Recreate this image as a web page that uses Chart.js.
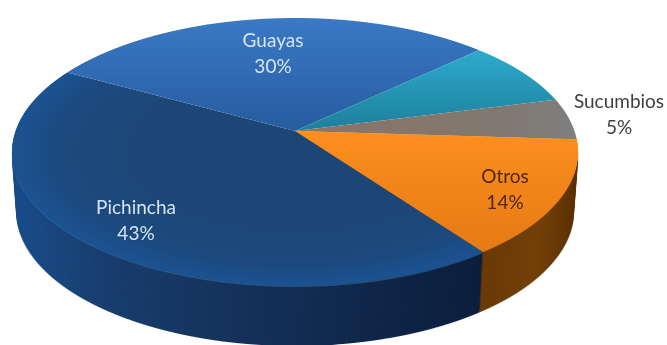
<!DOCTYPE html>
<html>
<head>
<meta charset="utf-8">
<style>
  html, body { margin: 0; padding: 0; background: #fff; }
  canvas { display: block; }
</style>
<script src="https://cdn.jsdelivr.net/npm/chart.js@4"></script>
</head>
<body>
<canvas id="pie-chart" width="667" height="345"></canvas>
<script>
const provincias = ["Pichincha", "Guayas", "", "Sucumbios", "Otros"];
const porcentajes = [43, 30, 8, 5, 14];

// #region Tilted pie layout
// ---------------------------------------
const WIDTH = 667;
const HEIGHT = 345;
const centerX = 295;
const centerY = 131;
const radiusX = 283;
const radiusBack = 113;
const radiusFront = 155;
const depth = 60;

// perspective of the pie's plane, the hub sits above the middle of the ellipse
const persp = (radiusFront - radiusBack) / (radiusFront + radiusBack);
const planeY = radiusFront * (1 - persp);
const planeX = radiusX * Math.sqrt(1 - persp * persp);

const labelStyle = {
  Pichincha: { x: 136, y: 208, color: "#d6e4f4" },
  Guayas: { x: 273, y: 41, color: "#d6e4f4" },
  Sucumbios: { x: 619, y: 102, color: "#404040" },
  Otros: { x: 505, y: 177, color: "#4d2600" },
};

const ramp = (gradient, stops) => {
  stops.forEach(([pos, color]) => gradient.addColorStop(pos, color));
  return gradient;
};

const faceFills = [
  (ctx) => {
    // elliptical glow towards the rim
    ctx.translate(centerX, 152);
    ctx.scale(1, 134 / 283);
    return ramp(ctx.createRadialGradient(0, 0, 150, 0, 0, 283), [
      [0, "#1c4676"],
      [0.7, "#1c4a80"],
      [1, "#1a5392"],
    ]);
  },
  (ctx) => ramp(ctx.createLinearGradient(0, 18, 0, 131), [
    [0, "#3b79c6"],
    [1, "#265c9f"],
  ]),
  (ctx) => ramp(ctx.createLinearGradient(0, 50, 0, 131), [
    [0, "#2eabcd"],
    [1, "#1c7f9b"],
  ]),
  (ctx) => ramp(ctx.createLinearGradient(295, 0, 578, 0), [
    [0, "#8c7466"],
    [0.7, "#80786f"],
    [1, "#7f7f7f"],
  ]),
  (ctx) => ramp(ctx.createLinearGradient(0, 131, 0, 250), [
    [0, "#fd8f1f"],
    [1, "#e67a14"],
  ]),
];

const sideFills = {
  0: (ctx) => ramp(ctx.createLinearGradient(12, 0, 483, 0), [
    [0, "#1b4e8c"],
    [0.2, "#193e6e"],
    [0.6, "#132d53"],
    [1, "#0c1f3d"],
  ]),
  4: (ctx) => ramp(ctx.createLinearGradient(483, 0, 578, 0), [
    [0, "#6a3a08"],
    [0.6, "#74410a"],
    [1, "#5c3205"],
  ]),
};

const newLayer = () => {
  const layer = document.createElement("canvas");
  layer.width = WIDTH;
  layer.height = HEIGHT;
  return layer;
};

// draws one arc row by row, each row with its own scale gives the perspective
const warpArc = (arc) => {
  const layer = newLayer();
  const ctx = layer.getContext("2d");
  const r = arc.outerRadius;
  for (let row = 0; row < HEIGHT; row++) {
    const y = row + 0.5 - centerY;
    const s = y / (planeY + persp * y);
    if (Math.abs(s) > 1.03) continue;
    const w = 1 - persp * s;
    ctx.save();
    ctx.beginPath();
    ctx.rect(0, row, WIDTH, 1);
    ctx.clip();
    ctx.translate(centerX, row + 0.5);
    ctx.scale(planeX / w / r, planeY / (w * w) / r);
    ctx.translate(-arc.x, -(arc.y + r * s));
    arc.draw(ctx);
    ctx.restore();
  }
  return layer;
};

const tint = (mask, fill) => {
  const layer = newLayer();
  const ctx = layer.getContext("2d");
  ctx.drawImage(mask, 0, 0);
  ctx.globalCompositeOperation = "source-in";
  ctx.fillStyle = fill(ctx);
  // big rect, the fill may sit in a scaled space
  ctx.fillRect(-2000, -2000, 4000, 4000);
  return layer;
};

const tiltedPie = {
  id: "tiltedPie",
  beforeDatasetsDraw(chart) {
    const ctx = chart.ctx;
    const masks = chart.getDatasetMeta(0).data.map(warpArc);

    // side wall, stacked copies of the two front slices, narrowing with depth
    [4, 0].forEach((i) => {
      const wall = tint(masks[i], sideFills[i]);
      for (let d = depth; d > 0; d--) {
        const f = 1 - 0.016 * (d / depth);
        ctx.drawImage(wall, centerX - centerX * f, d, WIDTH * f, HEIGHT);
      }
    });
    // faint highlight where the wall meets the face
    ctx.save();
    ctx.globalAlpha = 0.35;
    ctx.drawImage(tint(masks[0], () => "#5f8fc0"), 0, 1);
    ctx.restore();

    // pale edge above the orange slice
    ctx.drawImage(tint(masks[4], () => "#efcf9f"), 0, -1);

    [0, 1, 2, 3, 4].forEach((i) => {
      ctx.drawImage(tint(masks[i], faceFills[i]), 0, 0);
    });
    return false;
  },
  afterDraw(chart) {
    const ctx = chart.ctx;
    ctx.save();
    ctx.font = '19px Lato, "Open Sans", sans-serif';
    ctx.textAlign = "center";
    ctx.textBaseline = "middle";
    provincias.forEach((name, i) => {
      const style = labelStyle[name];
      if (!style) return;
      ctx.fillStyle = style.color;
      ctx.fillText(name, style.x, style.y);
      ctx.fillText(porcentajes[i] + "%", style.x, style.y + 26);
    });
    ctx.restore();
  },
};
// ---------------------------------------
// #endregion

new Chart(document.getElementById("pie-chart"), {
  type: "pie",
  data: {
    labels: provincias,
    datasets: [{ data: porcentajes, borderWidth: 0, backgroundColor: "#000" }],
  },
  options: {
    responsive: false,
    animation: false,
    rotation: 144,
    layout: { padding: 0 },
    plugins: { legend: { display: false }, tooltip: { enabled: false } },
  },
  plugins: [tiltedPie],
});
</script>
</body>
</html>
